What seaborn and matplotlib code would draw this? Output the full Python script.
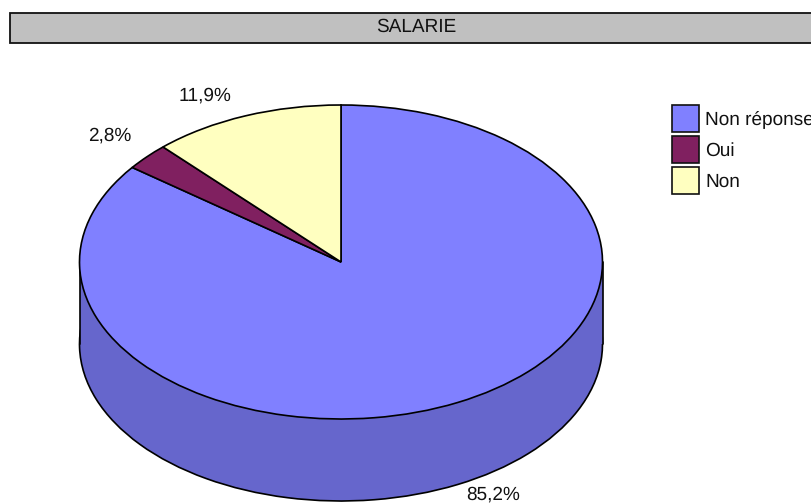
import matplotlib
matplotlib.use("Agg")
import matplotlib.pyplot as plt
from matplotlib.patches import Patch, Rectangle
from matplotlib.transforms import Affine2D
import seaborn as sns

title = "SALARIE"
categories = ["Non réponse", "Oui", "Non"]
values = [85.2, 2.8, 11.9]
value_labels = ["85,2%", "2,8%", "11,9%"]
top_colors = ["#8080FF", "#802060", "#FFFFC0"]
side_colors = ["#6666CC", "#661A4D", "#CCCC99"]

W, H = 811, 504
CX, CY, RX, RY, DEPTH = 341, 262, 261.5, 157, 82

sns.set_theme(style="white")
plt.rcParams["font.family"] = ["Liberation Sans", "DejaVu Sans"]
plt.rcParams["text.hinting"] = "no_hinting"
plt.rcParams["text.hinting_factor"] = 1
FS = 13.8

fig = plt.figure(figsize=(W / 100, H / 100), dpi=100, facecolor="white")
ax = fig.add_axes([0, 0, 1, 1])
palette = sns.color_palette(top_colors)
side_palette = sns.color_palette(side_colors)
depth = DEPTH / RY

# side of the drum: lower pie, then the band joining it to the top
ax.pie(values, colors=side_palette, startangle=90, counterclock=False, radius=1,
       center=(0, -depth),
       wedgeprops=dict(edgecolor="black", linewidth=1.2, zorder=1))
ax.fill_between([-1, 1], [-depth, -depth], [0, 0], color=side_palette[0],
                linewidth=0, zorder=2)
ax.plot([-1, -1], [-depth, 0], color="black", lw=1.2, zorder=3)
ax.plot([1, 1], [-depth, 0], color="black", lw=1.2, zorder=3)
# top face
ax.pie(values, colors=palette, startangle=90, counterclock=False, radius=1,
       wedgeprops=dict(edgecolor="black", linewidth=1.2, zorder=4))
ax.set_aspect("auto")
ax.set_xlim((0 - CX) / RX, (W - CX) / RX)
ax.set_ylim((CY - H) / RY, (CY - 0) / RY)
ax.axis("off")

# pixel coordinates, y downwards
px = Affine2D().scale(1, -1).translate(0, H)

fig.add_artist(Rectangle((9.5, 12.5), 830, 30, transform=px, facecolor="#C0C0C0",
                         edgecolor="#111111", linewidth=1.3, clip_on=True))
fig.text(416, 27, title, transform=px, ha="center", va="center", fontsize=FS, color="#111111")

label_pos = [(493, 495), (110, 136), (204.5, 95.5)]
for lab, (x, y) in zip(value_labels, label_pos):
    fig.text(x, y, lab, transform=px, ha="center", va="center", fontsize=FS, color="#111111")

handles = [Patch(facecolor=c, edgecolor="#111111", linewidth=1.2, label=n)
           for c, n in zip(palette, categories)]
leg = ax.legend(handles=handles, loc="upper left",
                bbox_to_anchor=(672 / W, 1 - 105 / H), bbox_transform=fig.transFigure,
                frameon=False, fontsize=FS, borderpad=0, borderaxespad=0,
                handlelength=1.41, handleheight=1.79, handletextpad=0.31,
                labelspacing=0.21)
for t in leg.get_texts():
    t.set_color("#111111")

fig.savefig("out.png", dpi=100, facecolor="white")
